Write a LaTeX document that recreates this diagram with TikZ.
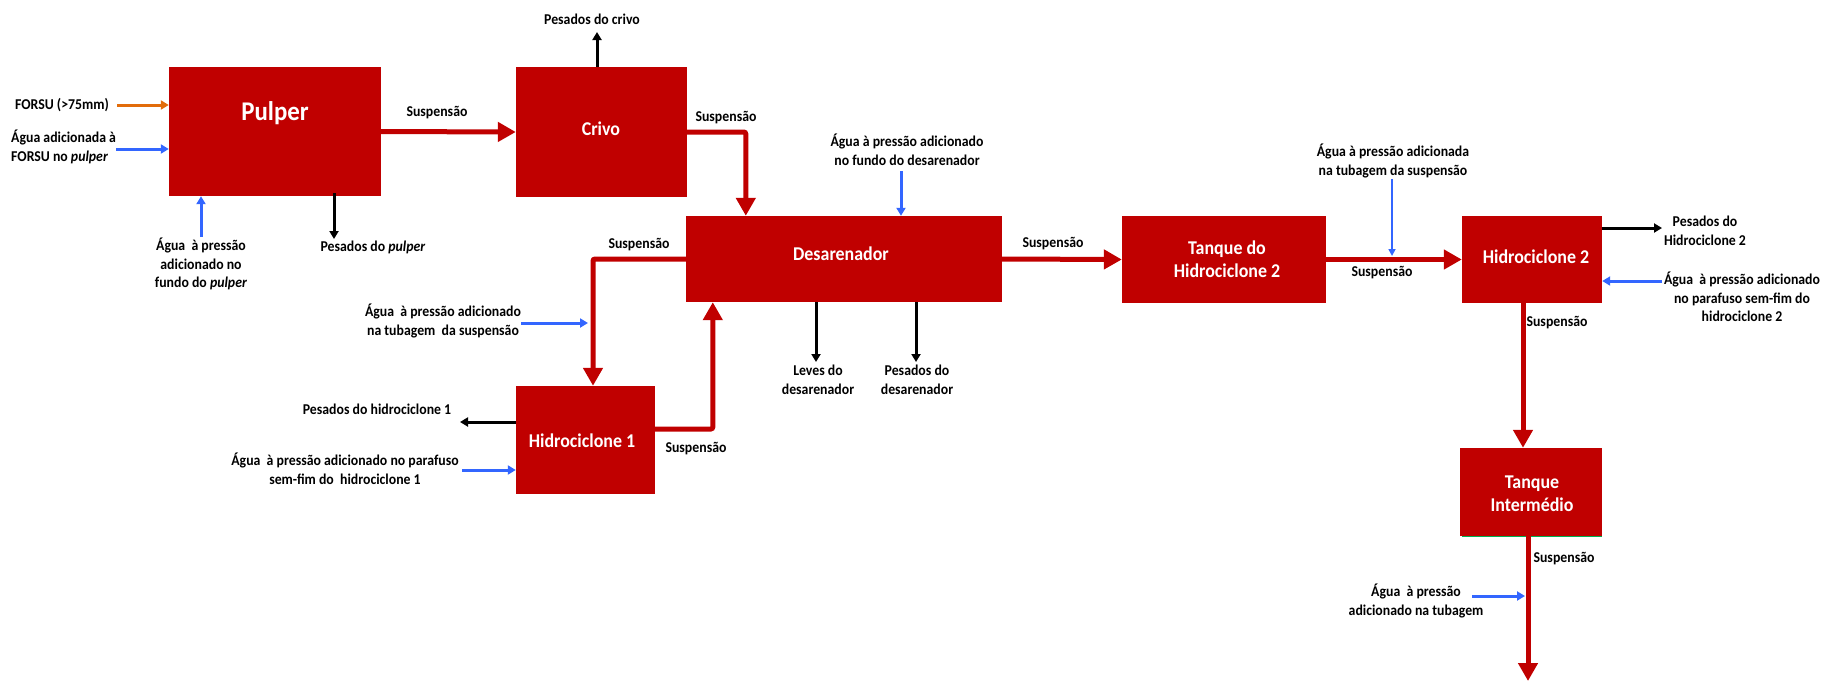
\documentclass[tikz,border=0pt]{standalone}
\usepackage{fontspec}
\setmainfont{Carlito}[FakeStretch=0.92]
\usetikzlibrary{arrows.meta,calc}
\definecolor{boxred}{RGB}{192,0,0}
\definecolor{waterblue}{RGB}{51,102,255}
\definecolor{feedorange}{RGB}{226,108,10}
\definecolor{edgegreen}{RGB}{0,176,80}
\begin{document}
\begin{tikzpicture}[x=1pt,y=-1pt,
  unit/.style={fill=boxred,draw=none,inner sep=0pt,minimum width=#1},
  title/.style={text=white,font=\bfseries\fontsize{19.5}{23}\selectfont,align=center,inner sep=0pt},
  lbl/.style={text=black,font=\bfseries\fontsize{15}{18.7}\selectfont,align=center,inner sep=0pt},
  flow/.style={draw=boxred,line width=5pt,rounded corners=2pt,-{Triangle[length=18pt,width=19pt]}},
  water/.style={draw=waterblue,line width=3pt,-{Triangle[length=8pt,width=9pt]}},
  waste/.style={draw=black,line width=3pt,-{Triangle[length=8pt,width=9pt]}},
  feed/.style={draw=feedorange,line width=3pt,-{Triangle[length=8pt,width=9pt]}}]
\useasboundingbox (0,0) rectangle (1825,681);

% process units
\node[unit=212pt,minimum height=129pt] (pulper) at (275,131.5) {};
\node[unit=171pt,minimum height=130pt] (crivo) at (601.5,132) {};
\node[unit=316pt,minimum height=86pt] (des) at (844,259) {};
\node[unit=204pt,minimum height=87pt] (tq) at (1224,259.5) {};
\node[unit=140pt,minimum height=87pt] (h2) at (1532,259.5) {};
\node[unit=139pt,minimum height=108pt] (h1) at (585.5,440) {};
\node[unit=142pt,minimum height=88pt] (ti) at (1531,492) {};
\draw[edgegreen,line width=1pt] ($(ti.south west)+(2,0)$) -- (ti.south east);

% unit titles
\node[title,font=\bfseries\fontsize{27}{30}\selectfont] (tpulper) at (275,113) {Pulper};
\node[title] (tcrivo) at (601,129) {Crivo};
\node[title] (tdes) at (841,254) {Desarenador};
\node[title] (ttq) at (1227,259) {Tanque do\\Hidrociclone 2};
\node[title] (th2) at (1536,257) {Hidrociclone 2};
\node[title] (th1) at (582,441) {Hidrociclone 1};
\node[title] (tti) at (1532,494) {Tanque\\Intermédio};

% main suspension line
\draw[flow] (pulper.east) -- (crivo.west);
\coordinate (cd) at ($(des.north west)+(60,0)$);
\draw[flow] (crivo.east) -| (cd);
\coordinate (dh) at ($(h1.north)+(7.5,0)$);
\draw[flow] (des.west) -| (dh);
\coordinate (hout) at ($(h1.east)+(0,-11)$);
\coordinate (hd) at ($(des.south west)+(27,0)$);
\draw[flow] (hout) -| (hd);
\draw[flow] (des.east) -- (tq.west);
\draw[flow] (tq.east) -- (h2.west);
\coordinate (h2out) at ($(h2.south)+(-9,0)$);
\draw[flow] (h2out) -- (h2out |- ti.north);
\coordinate (fim) at (1528,681);
\draw[flow] (ti.south -| fim) -- (fim);

% suspension labels
\node[lbl] (s1) at (437,113) {Suspensão};
\node[lbl] (s2) at (726,118) {Suspensão};
\node[lbl] (s3) at (639,245) {Suspensão};
\node[lbl] (s4) at (696,449) {Suspensão};
\node[lbl] (s5) at (1053,244) {Suspensão};
\node[lbl] (s6) at (1382,273) {Suspensão};
\node[lbl] (s7) at (1557,323) {Suspensão};
\node[lbl] (s8) at (1564,559) {Suspensão};

% pulper inputs and outputs
\node[lbl] (forsu) at (62,105) {FORSU (>75mm)};
\coordinate (fa) at (117,105);
\draw[feed] (fa) -- (fa -| pulper.west);
\node[lbl,align=left,anchor=west] (agua1) at (11,147) {Água adicionada à\\FORSU no \textit{pulper}};
\coordinate (wa) at (116,149);
\draw[water] (wa) -- (wa -| pulper.west);
\node[lbl] (agua2) at (201,264) {Água\ \ à pressão\\adicionado no\\fundo do \textit{pulper}};
\coordinate (wb) at (201,237);
\draw[water] (wb) -- (wb |- pulper.south);
\node[lbl] (pes1) at (373,247) {Pesados do \textit{pulper}};
\coordinate (pa) at (334,239);
\draw[waste] ($(pa |- pulper.south)+(0,-3)$) -- (pa);

% crivo waste
\node[lbl] (pescrivo) at (592,19) {Pesados do crivo};
\coordinate (pc) at (597,32);
\draw[waste] (pc |- crivo.north) -- (pc);

% desarenador inputs and outputs
\node[lbl] (aguades) at (907,150) {Água à pressão adicionado\\no fundo do desarenador};
\coordinate (wc) at (901,171);
\draw[water] (wc) -- (wc |- des.north);
\node[lbl] (leves) at (818,380) {Leves do\\desarenador};
\coordinate (la) at (816,362);
\draw[waste] (la |- des.south) -- (la);
\node[lbl] (pesdes) at (917,380) {Pesados do\\desarenador};
\coordinate (pd) at (916,362);
\draw[waste] (pd |- des.south) -- (pd);

% hidrociclone 1 inputs and outputs
\node[lbl] (aguatub) at (443,321) {Água\ \ à pressão adicionado\\na tubagem\ \ da suspensão};
\coordinate (wd) at (521,323);
\draw[water] (wd) -- (588,323);
\node[lbl] (pesh1) at (377,409) {Pesados do hidrociclone 1};
\coordinate (pe) at (460,422);
\draw[waste] (pe -| h1.west) -- (pe);
\node[lbl] (aguah1) at (345,469) {Água\ \ à pressão adicionado no parafuso\\sem-fim do\ \ hidrociclone 1};
\coordinate (we) at (462,470);
\draw[water] (we) -- (we -| h1.west);

% hidrociclone 2 inputs and outputs
\node[lbl] (aguah2tub) at (1393,161) {Água à pressão adicionada\\na tubagem da suspensão};
\coordinate (wf) at (1392,179);
\draw[water,line width=1.6pt,-{Triangle[length=7pt,width=7pt]}] (wf) -- (1392,256);
\node[lbl] (pesh2) at (1705,231) {Pesados do\\Hidrociclone 2};
\coordinate (pf) at (1662,228);
\draw[waste] (pf -| h2.east) -- (pf);
\node[lbl] (aguah2) at (1742,297) {Água\ \ à pressão adicionado\\no parafuso sem-fim do\\hidrociclone 2};
\coordinate (wg) at (1662,281);
\draw[water] (wg) -- (wg -| h2.east);

% water added after the intermediate tank
\node[lbl] (aguabot) at (1416,601) {Água\ \ à pressão\\adicionado na tubagem};
\coordinate (wh) at (1472,596);
\draw[water] (wh) -- (1525,596);
\end{tikzpicture}
\end{document}
